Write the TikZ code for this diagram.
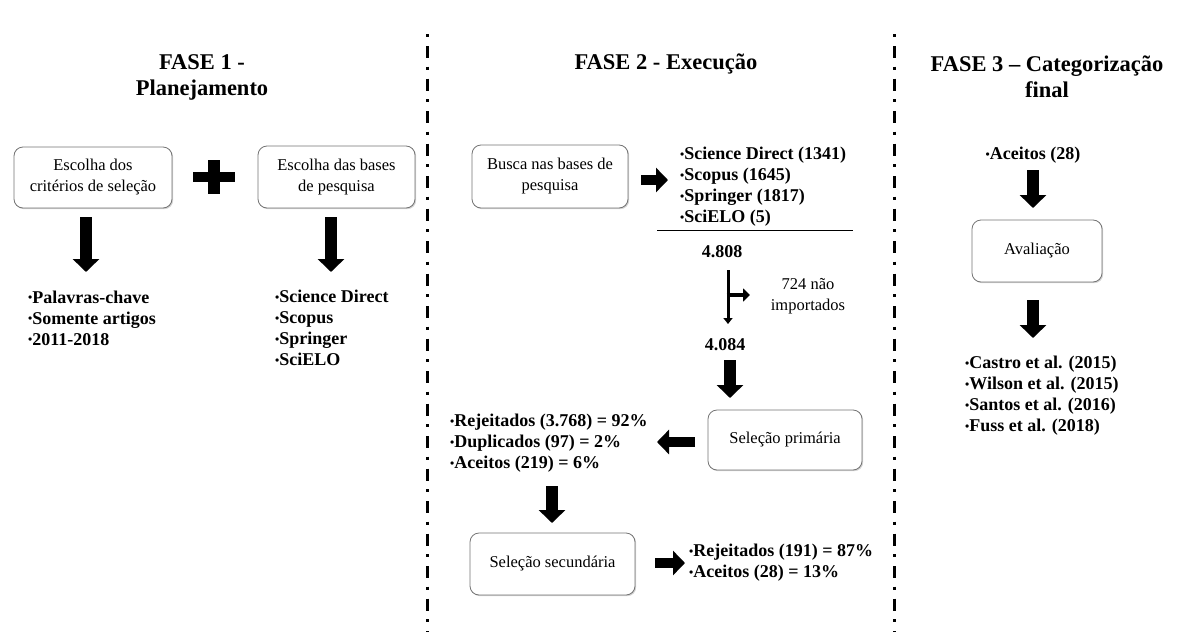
\documentclass[tikz,border=0pt]{standalone}
\usepackage{fontspec}
\setmainfont{Liberation Serif}
\usetikzlibrary{arrows.meta,shadows}
\newcommand{\bul}{\raisebox{1.2pt}{\fontsize{12}{12}\selectfont •}}
\tikzset{
 boxnode/.style={draw=black!55, line width=0.8pt, rounded corners=9pt, align=center,
   font=\fontsize{16.5}{21}\selectfont, inner sep=0pt, fill=white,
   drop shadow={shadow xshift=1.2pt,shadow yshift=-1.2pt,opacity=0.35}},
 listnode/.style={align=left, anchor=west, inner sep=0pt, font=\bfseries\fontsize{18}{21}\selectfont},
 titlenode/.style={align=center, inner sep=0pt, font=\bfseries\fontsize{22.5}{26}\selectfont},
 plainnode/.style={align=center, inner sep=0pt, font=\fontsize{16.5}{21}\selectfont},
 numnode/.style={inner sep=0pt, font=\bfseries\fontsize{18}{21}\selectfont},
 downarrow/.style={line width=12pt, -{Triangle[width=26pt,length=13pt]}},
 sidearrow/.style={line width=10pt, -{Triangle[width=24pt,length=12pt]}},
 divider/.style={line width=3pt, dash pattern=on 3pt off 9pt on 12pt off 8.5pt},
}
\begin{document}
\begin{tikzpicture}[x=1pt,y=-1pt]
\path[use as bounding box] (0,0) rectangle (1178,632);

% dividers
\coordinate (d1t) at (427,34); \coordinate (d1b) at (427,632);
\coordinate (d2t) at (894,34); \coordinate (d2b) at (894,632);
\draw[divider] (d1t) -- (d1b);
\draw[divider] (d2t) -- (d2b);

% titles
\node[titlenode] (t1) at (202,77) {FASE 1 -\\Planejamento};
\node[titlenode] (t2) at (666,64) {FASE 2 - Execução};
\node[titlenode] (t3) at (1047,77) {FASE 3 – Categorização\\final};

% ---------- Phase 1
\node[boxnode, minimum width=158pt, minimum height=61pt] (b1) at (93,177.5) {Escolha dos\\critérios de seleção};
\node[boxnode, minimum width=157pt, minimum height=62pt] (b2) at (336.5,177) {Escolha das bases\\de pesquisa};
\fill (193,172) rectangle (235,182);
\fill (208,160) rectangle (220,194);

\coordinate (a1s) at (86,217); \coordinate (a1e) at (86,272);
\coordinate (a2s) at (331,217); \coordinate (a2e) at (331,272);
\draw[downarrow] (a1s) -- (a1e);
\draw[downarrow] (a2s) -- (a2e);

\node[listnode] (l1) at (28,318) {\bul Palavras-chave\\\bul Somente artigos\\\bul 2011-2018};
\node[listnode] (l2) at (275,328) {\bul Science Direct\\\bul Scopus\\\bul Springer\\\bul SciELO};

% ---------- Phase 2
\node[boxnode, minimum width=156pt, minimum height=63pt] (b3) at (550,176.5) {Busca nas bases de\\pesquisa};
\coordinate (a3s) at (641,180); \coordinate (a3e) at (668,180);
\draw[sidearrow] (a3s) -- (a3e);
\node[listnode] (l3) at (680,186.5) {\bul Science Direct (1341)\\\bul Scopus (1645)\\\bul Springer (1817)\\\bul SciELO (5)};
\coordinate (hl1) at (657,230); \coordinate (hl2) at (853,230);
\draw[line width=1pt] (hl1) -- (hl2);

\node[numnode] (n1) at (722,252) {4.808};
\node[numnode] (n2) at (725,345) {4.084};
\node[plainnode] (n3) at (808,296) {724 não\\importados};
\coordinate (v1) at (728,270); \coordinate (v2) at (728,324);
\draw[line width=3pt, -{Triangle[width=9pt,length=6pt]}] (v1) -- (v2);
\coordinate (br1) at (726.5,295); \coordinate (br2) at (750,295);
\draw[line width=4.5pt, -{Triangle[width=13pt,length=7pt]}] (br1) -- (br2);

\coordinate (a4s) at (730,360); \coordinate (a4e) at (730,398);
\draw[downarrow] (a4s) -- (a4e);
\node[boxnode, minimum width=154pt, minimum height=60pt] (b4) at (785,440) {Seleção primária};
\coordinate (a5s) at (695,442); \coordinate (a5e) at (657,442);
\draw[sidearrow] (a5s) -- (a5e);
\node[listnode] (l4) at (450,443) {\bul Rejeitados (3.768) = 92\%\\\bul Duplicados (97) = 2\%\\\bul Aceitos (219) = 6\%};
\coordinate (a6s) at (552,486); \coordinate (a6e) at (552,523);
\draw[downarrow] (a6s) -- (a6e);
\node[boxnode, minimum width=165pt, minimum height=62pt] (b5) at (552.5,564) {Seleção secundária};
\coordinate (a7s) at (655,563); \coordinate (a7e) at (685,563);
\draw[sidearrow] (a7s) -- (a7e);
\node[listnode] (l5) at (689,563) {\bul Rejeitados (191) = 87\%\\\bul Aceitos (28) = 13\%};

% ---------- Phase 3
\node[numnode] (l6) at (1033,155) {\bul Aceitos (28)};
\coordinate (a8s) at (1033,170); \coordinate (a8e) at (1033,208);
\draw[downarrow] (a8s) -- (a8e);
\node[boxnode, minimum width=130pt, minimum height=62pt] (b6) at (1037,251) {Avaliação};
\coordinate (a9s) at (1033,300); \coordinate (a9e) at (1033,338);
\draw[downarrow] (a9s) -- (a9e);
\node[listnode] (l7) at (965,396) {\bul Castro et al. (2015)\\\bul Wilson et al. (2015)\\\bul Santos et al. (2016)\\\bul Fuss et al. (2018)};
\end{tikzpicture}
\end{document}
